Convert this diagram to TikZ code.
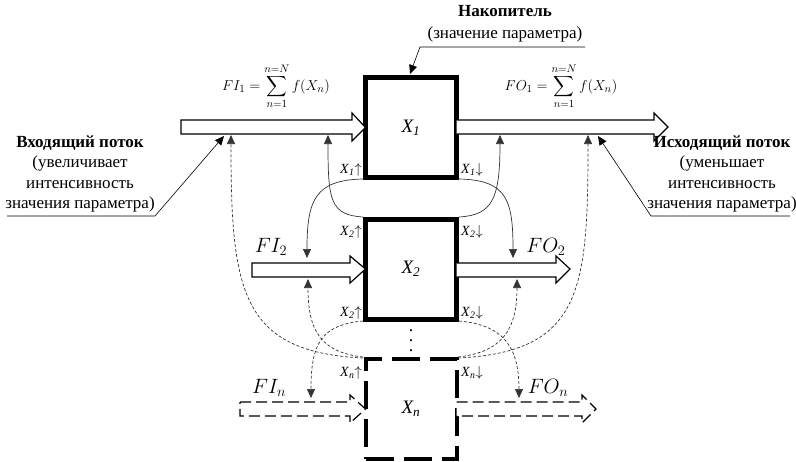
\documentclass[tikz,border=0pt]{standalone}
\usepackage{amsmath}
\usepackage{fontspec}
\setmainfont{Liberation Serif}
\usetikzlibrary{arrows.meta}
\begin{document}
\begin{tikzpicture}[x=1pt,y=-1pt,
  stock/.style={draw,line width=5pt,minimum width=91pt,minimum height=100pt,inner sep=0pt,outer sep=0pt,font=\fontsize{19}{19}\selectfont\itshape},
  stockdash/.style={stock,line width=4pt,dash pattern=on 28pt off 10pt},
  flow/.style={draw,line width=1.2pt,fill=white,line join=miter},
  flowdash/.style={flow,dash pattern=on 11pt off 5pt},
  tip/.style={-{Triangle[length=9pt,width=8pt]}},
  link/.style={tip,line width=0.7pt,draw=black!80},
  dlink/.style={tip,line width=0.7pt,draw=black!80,dash pattern=on 3pt off 2pt},
  ptr/.style={tip,line width=0.6pt},
  lbl/.style={align=center,font=\fontsize{17}{20.5}\selectfont,inner sep=0pt},
  small/.style={font=\fontsize{14}{14}\selectfont,inner sep=0pt},
  mlbl/.style={font=\fontsize{21}{21}\selectfont,inner sep=0pt},
  flbl/.style={font=\fontsize{15}{15}\selectfont,inner sep=0pt}
]
\useasboundingbox (0,0) rectangle (796,461);
% stocks
\node[stock] (x1) at (411,127.5) {X\textsubscript{\textit{1}}};
\node[stock] (x2) at (411,269) {X\textsubscript{\textit{2}}};
\node[stockdash] (xn) at (411,409) {X\textsubscript{\textit{n}}};
% flows row 1
\draw[flow] (181,120) -- (352,120) -- (352,113) -- (x1.west) -- (352,141) -- (352,134) -- (181,134) -- cycle;
\draw[flow] (x1.east |- 0,120) -- (654,120) -- (654,113) -- (668,127) -- (654,141) -- (654,134) -- (x1.east |- 0,134);
% row 2
\draw[flow] (252,263) -- (350,263) -- (350,256) -- (x2.west) -- (350,283) -- (350,277) -- (252,277) -- cycle;
\draw[flow] (x2.east |- 0,263) -- (556,263) -- (556,256) -- (570,269) -- (556,283) -- (556,277) -- (x2.east |- 0,277);
% row n
\draw[flowdash] (240,402) -- (350,402) -- (350,395) -- (xn.west) -- (350,423) -- (350,416) -- (240,416) -- cycle;
\draw[flowdash] (xn.east |- 0,402) -- (582,402) -- (582,395) -- (596,409) -- (582,423) -- (582,416) -- (xn.east |- 0,416);
% dots
\node[align=center,inner sep=0pt,font=\fontsize{18}{10}\selectfont] (dots) at (411,341) {.\\.\\.};
% coordinates for corners
\coordinate (x1bl) at (363,179);
\coordinate (x1br) at (459,179);
\coordinate (x2tl) at (363,217);
\coordinate (x2tr) at (459,217);
\coordinate (x2bl) at (363,321);
\coordinate (x2br) at (459,321);
\coordinate (xntl) at (363,358);
\coordinate (xntr) at (458,358);
% solid links
\draw[link] (x1bl) .. controls (315,180) and (307,200) .. (307,258);
\draw[link] (x2tl) .. controls (330,215) and (328,200) .. (328,135);
\draw[link] (x1br) .. controls (507,180) and (513,200) .. (513,258);
\draw[link] (x2tr) .. controls (492,215) and (500,200) .. (500,135);
% dashed links
\draw[dlink] (xntl) .. controls (240,352) and (231,290) .. (231,135);
\draw[dlink] ([yshift=1pt]xntl) .. controls (320,352) and (308,330) .. (308,279);
\draw[dlink] (x2bl) .. controls (320,325) and (311,345) .. (311,398);
\draw[dlink] (xntr) .. controls (582,352) and (588,290) .. (588,135);
\draw[dlink] ([yshift=1pt]xntr) .. controls (502,352) and (517,330) .. (517,279);
\draw[dlink] (x2br) .. controls (502,325) and (519,345) .. (519,398);
% small labels
\node[small,anchor=east] (l1u) at (362,170) {\textit{X}\textsubscript{\textit{1}}$\uparrow$};
\node[small,anchor=west] (l1d) at (461,170) {\textit{X}\textsubscript{\textit{1}}$\downarrow$};
\node[small,anchor=east] (l2u) at (362,232) {\textit{X}\textsubscript{\textit{2}}$\uparrow$};
\node[small,anchor=west] (l2d) at (461,232) {\textit{X}\textsubscript{\textit{2}}$\downarrow$};
\node[small,anchor=east] (l2u2) at (362,313) {\textit{X}\textsubscript{\textit{2}}$\uparrow$};
\node[small,anchor=west] (l2d2) at (461,313) {\textit{X}\textsubscript{\textit{2}}$\downarrow$};
\node[small,anchor=east] (lnu) at (362,373) {\textit{X}\textsubscript{\textit{n}}$\uparrow$};
\node[small,anchor=west] (lnd) at (461,373) {\textit{X}\textsubscript{\textit{n}}$\downarrow$};
% flow labels
\node[flbl] (fi1) at (276,86) {$FI_1=\displaystyle\sum_{n=1}^{n=N} f(X_n)$};
\node[flbl] (fo1) at (561,86) {$FO_1=\displaystyle\sum_{n=1}^{n=N} f(X_n)$};
\node[mlbl] (fi2) at (271,247) {$FI_2$};
\node[mlbl] (fo2) at (546,247) {$FO_2$};
\node[mlbl] (fin) at (269,388) {$FI_n$};
\node[mlbl] (fon) at (548,388) {$FO_n$};
% text labels
\node[lbl] (inlbl) at (80,174) {\textbf{Входящий поток}\\(увеличивает\\интенсивность\\значения параметра)};
\node[lbl] (outlbl) at (722,174) {\textbf{Исходящий поток}\\(уменьшает\\интенсивность\\значения параметра)};
\node[lbl,font=\fontsize{17}{22}\selectfont] (naklbl) at (505,24) {\textbf{Накопитель}\\(значение параметра)};
% pointers
\coordinate (nakA) at (585,47);
\coordinate (nakB) at (420,47);
\draw[ptr] (nakA) -- (nakB) -- (410,74);
\coordinate (inA) at (7,216);
\coordinate (inB) at (155,216);
\draw[ptr] (inA) -- (inB) -- (224,136);
\coordinate (outA) at (790,216);
\coordinate (outB) at (651,216);
\draw[ptr] (outA) -- (outB) -- (598,136);
\end{tikzpicture}
\end{document}
